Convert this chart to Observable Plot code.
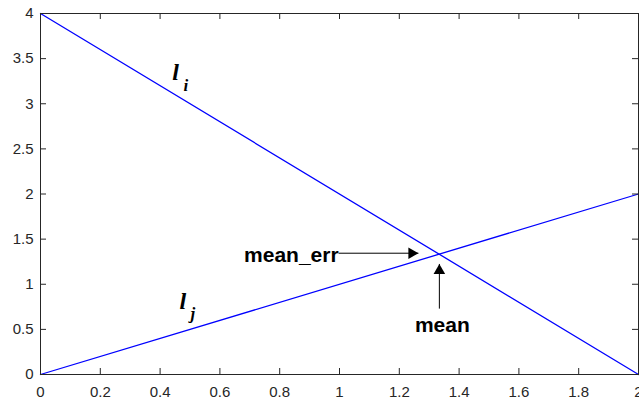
<!DOCTYPE html>
<html><head><meta charset="utf-8">
<script src="https://cdn.jsdelivr.net/npm/d3@7"></script>
<script src="https://cdn.jsdelivr.net/npm/@observablehq/plot@0.6"></script>
<style>body{margin:0;background:#fff;overflow:hidden}</style>
</head><body><div id="chart"></div>
<script>
const xTicks = [0, 0.2, 0.4, 0.6, 0.8, 1, 1.2, 1.4, 1.6, 1.8, 2];
const xTickLabels = ["0", "0.2", "0.4", "0.6", "0.8", "1", "1.2", "1.4", "1.6", "1.8", "2"];
const yTicks = [0, 0.5, 1, 1.5, 2, 2.5, 3, 3.5, 4];
const yTickLabels = ["0", "0.5", "1", "1.5", "2", "2.5", "3", "3.5", "4"];

const lineIX = [0, 2];
const lineIY = [4, 0];
const lineJX = [0, 2];
const lineJY = [0, 2];

const meanErrArrow = {x1: 0.997, y1: 1.344, x2: 1.264, y2: 1.344};
const meanArrow = {x1: 1.334, y1: 0.73, x2: 1.334, y2: 1.225};

const labelMeanErr = {x: 0.997, y: 1.241, text: "mean_err"};
const labelMean = {x: 1.344, y: 0.469, text: "mean"};
const labelLi = [{x: 0.441, y: 3.258, text: "l"}, {x: 0.478, y: 3.139, text: "i"}];
const labelLj = [{x: 0.465, y: 0.731, text: "l"}, {x: 0.502, y: 0.62, text: "j"}];

const W = 639, H = 401, mL = 40, mR = 1, mT = 13, mB = 27;
const pw = W - mL - mR, ph = H - mT - mB;
const ink = "#262626";
const headR = 4.3;
const headBack = 2 * headR * Math.sqrt(Math.PI / (3 * Math.sqrt(3)));

const lines = [
  ...lineIX.map((x, i) => ({series: "i", x, y: lineIY[i]})),
  ...lineJX.map((x, i) => ({series: "j", x, y: lineJY[i]}))
];

const plot = Plot.plot({
  width: W, height: H,
  marginLeft: mL, marginRight: mR, marginTop: mT, marginBottom: mB,
  x: {domain: [0, 2]},
  y: {domain: [0, 4]},
  style: {fontFamily: "'Liberation Sans', Arial, Helvetica, sans-serif", fontSize: "15px", color: ink, background: "#fff", overflow: "visible"},
  marks: [
    Plot.line(lines, {x: "x", y: "y", z: "series", stroke: "#0000ff", strokeWidth: 1.3}),
    Plot.frame({stroke: ink, strokeWidth: 1}),
    Plot.tickX(xTicks, {x: d => d, stroke: ink, insetTop: ph - 6}),
    Plot.tickX(xTicks, {x: d => d, stroke: ink, insetBottom: ph - 6}),
    Plot.tickY(yTicks, {y: d => d, stroke: ink, insetRight: pw - 6}),
    Plot.tickY(yTicks, {y: d => d, stroke: ink, insetLeft: pw - 6}),
    Plot.axisX(xTicks, {tickSize: 0, tickPadding: 12, tickFormat: d => xTickLabels[xTicks.indexOf(d)], fill: ink, label: null}),
    Plot.axisY(yTicks, {tickSize: 0, tickPadding: 7, tickFormat: d => yTickLabels[yTicks.indexOf(d)], fill: ink, label: null}),
    Plot.link([meanErrArrow], {x1: "x1", y1: "y1", x2: "x2", y2: "y2", stroke: "#000", strokeWidth: 1, insetRight: 0}),
    Plot.link([meanArrow], {x1: "x1", y1: "y1", x2: "x2", y2: "y2", stroke: "#000", strokeWidth: 1}),
    Plot.dot([meanErrArrow], {x: "x2", y: "y2", symbol: "triangle", r: headR, rotate: 90, fill: "#000", stroke: "none", dx: -headBack}),
    Plot.dot([meanArrow], {x: "x2", y: "y2", symbol: "triangle", r: headR, rotate: 0, fill: "#000", stroke: "none", dy: headBack}),
    Plot.text([labelMeanErr], {x: "x", y: "y", text: "text", textAnchor: "end", lineAnchor: "bottom", fontWeight: "bold", fontSize: 21, fill: "#000"}),
    Plot.text([labelMean], {x: "x", y: "y", text: "text", textAnchor: "middle", lineAnchor: "bottom", fontWeight: "bold", fontSize: 21, fill: "#000"}),
    Plot.text([labelLi[0], labelLj[0]], {x: "x", y: "y", text: "text", textAnchor: "start", lineAnchor: "bottom", fontWeight: "bold", fontStyle: "italic", fontFamily: "'Liberation Serif', 'Times New Roman', serif", fontSize: 24, fill: "#000"}),
    Plot.text([labelLi[1], labelLj[1]], {x: "x", y: "y", text: "text", textAnchor: "start", lineAnchor: "bottom", fontWeight: "bold", fontStyle: "italic", fontFamily: "'Liberation Serif', 'Times New Roman', serif", fontSize: 17, fill: "#000"})
  ]
});
document.getElementById("chart").appendChild(plot);
</script>
</body></html>
